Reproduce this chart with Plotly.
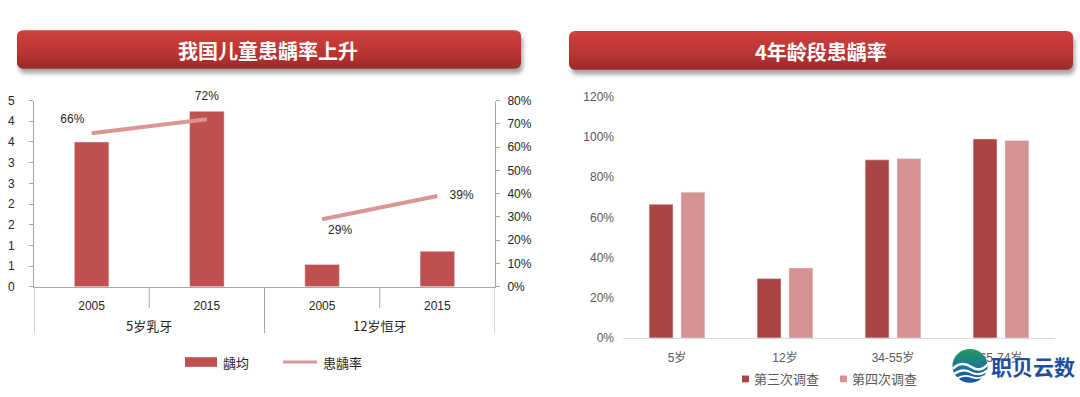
import base64
import plotly.graph_objects as go

# ---------------- data ----------------
LEFT_TITLE = "我国儿童患龋率上升"
RIGHT_TITLE = "4年龄段患龋率"

GROUPS = ["5岁乳牙", "12岁恒牙"]
YEARS = ["2005", "2015"]
DMFT = [3.5, 4.24, 0.54, 0.86]          # 龋均 (left axis)
RATE = [0.66, 0.72, 0.29, 0.39]          # 患龋率 (right axis)
LEFT_TICK_VALS = [0, 0.5, 1, 1.5, 2, 2.5, 3, 3.5, 4, 4.5]
LEFT_TICK_LABELS = ["0", "1", "1", "2", "2", "3", "3", "4", "4", "5"]
LEFT_SERIES = ["龋均", "患龋率"]

AGE_GROUPS = ["5岁", "12岁", "34-55岁", "65-74岁"]
SURVEY3 = [0.665, 0.295, 0.886, 0.99]
SURVEY4 = [0.725, 0.348, 0.892, 0.982]
RIGHT_SERIES = ["第三次调查", "第四次调查"]
LOGO_TEXT = "职贝云数"

# ---------------- styling ----------------
W, H = 1080, 397
FONT = "Liberation Sans, Arial, Noto Sans CJK SC"
CJK = "Noto Sans CJK SC, Liberation Sans"
BAR_RED = "#c0504d"
LINE_PINK = "#d99694"
DARK = "#a94644"
LIGHT = "#d49292"
AXIS = "#a6a6a6"
LABEL_POS = [["top left", "top center"], ["bottom right", "middle right"]]
LABEL_PAD = [[10, 24], [8, 18]]   # invisible marker sizes that set the label offsets


def px(x):
    return x / W


def py(y):
    return 1 - y / H


def svg_uri(svg):
    return "data:image/svg+xml;base64," + base64.b64encode(svg.encode("utf-8")).decode()


def banner(w, h):
    return svg_uri(
        f"<svg xmlns='http://www.w3.org/2000/svg' width='{w}' height='{h}' viewBox='0 0 {w} {h}'>"
        "<defs><linearGradient id='g' x1='0' y1='0' x2='0' y2='1'>"
        "<stop offset='0' stop-color='#d1403c'/><stop offset='0.55' stop-color='#bb3633'/>"
        "<stop offset='1' stop-color='#9c2a2a'/></linearGradient>"
        "<filter id='s' x='-5%' y='-30%' width='110%' height='180%'><feGaussianBlur stdDeviation='2.2'/></filter></defs>"
        f"<rect x='3' y='6' width='{w-6}' height='{h-10}' rx='6' fill='#000' opacity='0.35' filter='url(#s)'/>"
        f"<rect x='1' y='1' width='{w-6}' height='{h-10}' rx='6' fill='url(#g)'/>"
        "</svg>"
    )


LOGO = svg_uri(
    "<svg xmlns='http://www.w3.org/2000/svg' width='40' height='40' viewBox='0 0 40 40'>"
    "<defs><linearGradient id='c' x1='0' y1='0' x2='0' y2='1'>"
    "<stop offset='0' stop-color='#239a5c'/><stop offset='0.45' stop-color='#1b7b8f'/>"
    "<stop offset='1' stop-color='#1652a0'/></linearGradient></defs>"
    "<circle cx='20' cy='20' r='18.5' fill='url(#c)'/>"
    "<path d='M2,23 Q11,14 21,21 T39,18' stroke='white' stroke-width='2.6' fill='none'/>"
    "<path d='M3,29 Q12,22 21,27 T38,25' stroke='white' stroke-width='2.2' fill='none'/>"
    "<path d='M6,34 Q13,29 21,32 T35,31' stroke='white' stroke-width='1.8' fill='none'/>"
    "</svg>"
)

fig = go.Figure()

# ---------------- left chart ----------------
xi = list(range(len(DMFT)))
fig.add_trace(go.Bar(
    x=xi, y=DMFT, name=LEFT_SERIES[0], marker_color=BAR_RED, width=0.3,
    xaxis="x", yaxis="y", showlegend=False, hoverinfo="y",
))
for g in range(len(GROUPS)):
    idx = [g * len(YEARS) + k for k in range(len(YEARS))]
    fig.add_trace(go.Scatter(
        x=idx, y=[RATE[i] for i in idx], name=LEFT_SERIES[1],
        mode="lines+markers+text", line=dict(color=LINE_PINK, width=4),
        marker=dict(size=LABEL_PAD[g], opacity=0, color=LINE_PINK),
        texttemplate="%{y:.0%}", textposition=LABEL_POS[g],
        textfont=dict(size=12, color="#262626", family=FONT),
        xaxis="x", yaxis="y2", showlegend=False, cliponaxis=False,
    ))

# ---------------- right chart ----------------
fig.add_trace(go.Bar(x=AGE_GROUPS, y=SURVEY3, name=RIGHT_SERIES[0], marker_color=DARK,
                     xaxis="x3", yaxis="y3", showlegend=False))
fig.add_trace(go.Bar(x=AGE_GROUPS, y=SURVEY4, name=RIGHT_SERIES[1], marker_color=LIGHT,
                     xaxis="x3", yaxis="y3", showlegend=False))

L_X0, L_X1, L_Y0, L_Y1 = 34, 495, 290, 97
R_X0, R_X1, R_Y0, R_Y1 = 623, 1055, 343, 93

tickfont = dict(size=12, color="#262626", family=FONT)
fig.update_layout(
    width=W, height=H, margin=dict(l=0, r=0, t=0, b=0),
    paper_bgcolor="white", plot_bgcolor="rgba(0,0,0,0)",
    barmode="group", bargap=0.41, bargroupgap=0.25,
    font=dict(family=FONT, color="#262626"),
    xaxis=dict(domain=[px(L_X0), px(L_X1)], range=[-0.5, len(DMFT) - 0.5],
               tickvals=xi, ticktext=YEARS * len(GROUPS), ticks="",
               showline=True, linecolor=AXIS, linewidth=1, showgrid=False, zeroline=False,
               tickfont=tickfont, ticklabelstandoff=8, fixedrange=True),
    yaxis=dict(domain=[py(L_Y0), py(L_Y1)], range=[0, 4.5], anchor="x",
               tickvals=LEFT_TICK_VALS, ticktext=LEFT_TICK_LABELS,
               ticks="outside", ticklen=4, tickcolor=AXIS, showline=True, linecolor=AXIS,
               showgrid=False, zeroline=False, tickfont=tickfont, ticklabelstandoff=12),
    yaxis2=dict(domain=[py(L_Y0), py(L_Y1)], range=[0, 0.8], dtick=0.1, tickformat=".0%",
                overlaying="y", side="right", anchor="x",
                ticks="outside", ticklen=4, tickcolor=AXIS, showline=True, linecolor=AXIS,
                showgrid=False, zeroline=False, tickfont=tickfont, ticklabelstandoff=5),
    xaxis3=dict(domain=[px(R_X0), px(R_X1)], anchor="y3", showline=True, linecolor="#d9d9d9",
                ticks="", showgrid=False, zeroline=False,
                tickfont=dict(size=12, color="#595959", family=FONT), ticklabelstandoff=9),
    yaxis3=dict(domain=[py(R_Y0), py(R_Y1)], anchor="x3", range=[0, 1.2], dtick=0.2,
                tickformat=".0%", showline=False, showgrid=False, zeroline=False, ticks="",
                tickfont=dict(size=12, color="#595959", family=FONT), ticklabelstandoff=8),
)

# separators under the left category axis
shapes = []
n_years = len(YEARS)
for b in range(len(DMFT) + 1):
    is_group = b % n_years == 0
    shapes.append(dict(type="line", xref="x", yref="paper",
                       x0=b - 0.5, x1=b - 0.5, y0=py(L_Y0), y1=py(338 if is_group else 312),
                       line=dict(color=AXIS, width=1)))


def note(x, y, text, size, family, color, xanchor="center", xref="paper"):
    return dict(x=x, y=y, xref=xref, yref="paper", xanchor=xanchor, yanchor="middle",
                text=text, showarrow=False, font=dict(size=size, family=family, color=color))


annotations = []
for g, name in enumerate(GROUPS):
    annotations.append(note(g * n_years + (n_years - 1) / 2, py(330), name, 13, CJK, "#262626", xref="x"))

# left legend (manual)
shapes.append(dict(type="rect", xref="paper", yref="paper", x0=px(185), x1=px(217),
                   y0=py(373), y1=py(363), fillcolor=BAR_RED, line=dict(width=0)))
annotations.append(note(px(221), py(368), LEFT_SERIES[0], 13, CJK, "#262626", "left"))
shapes.append(dict(type="line", xref="paper", yref="paper", x0=px(283), x1=px(317),
                   y0=py(368), y1=py(368), line=dict(color=LINE_PINK, width=3)))
annotations.append(note(px(321), py(368), LEFT_SERIES[1], 13, CJK, "#262626", "left"))

# right legend (manual)
for sx, col, name in [(742, DARK, RIGHT_SERIES[0]), (840, LIGHT, RIGHT_SERIES[1])]:
    shapes.append(dict(type="rect", xref="paper", yref="paper", x0=px(sx), x1=px(sx + 7),
                       y0=py(389), y1=py(382), fillcolor=col, line=dict(width=0)))
    annotations.append(note(px(sx + 10), py(385.5), name, 13, CJK, "#595959", "left"))

# titles
annotations.append(note(px(268), py(45), f"<b>{LEFT_TITLE}</b>", 20, CJK, "white"))
annotations.append(note(px(821), py(46), f"<b>{RIGHT_TITLE}</b>", 20, CJK, "white"))
# watermark text
annotations.append(note(px(989), py(372), f"<b>{LOGO_TEXT}</b>", 21, CJK, "#1d4f9f", "left"))

images = [
    dict(source=banner(510, 50), xref="paper", yref="paper", x=px(16), y=py(23),
         sizex=px(510), sizey=50 / H, sizing="stretch", xanchor="left", yanchor="top", layer="above"),
    dict(source=banner(510, 50), xref="paper", yref="paper", x=px(568), y=py(24),
         sizex=px(510), sizey=50 / H, sizing="stretch", xanchor="left", yanchor="top", layer="above"),
    dict(source=LOGO, xref="paper", yref="paper", x=px(951), y=py(353),
         sizex=px(38), sizey=38 / H, sizing="stretch", xanchor="left", yanchor="top", layer="above"),
]

fig.update_layout(shapes=shapes, annotations=annotations, images=images)
fig.write_html("out.html", config={"displayModeBar": False},
               post_script="document.body.style.margin='0';document.body.style.overflow='hidden';")
